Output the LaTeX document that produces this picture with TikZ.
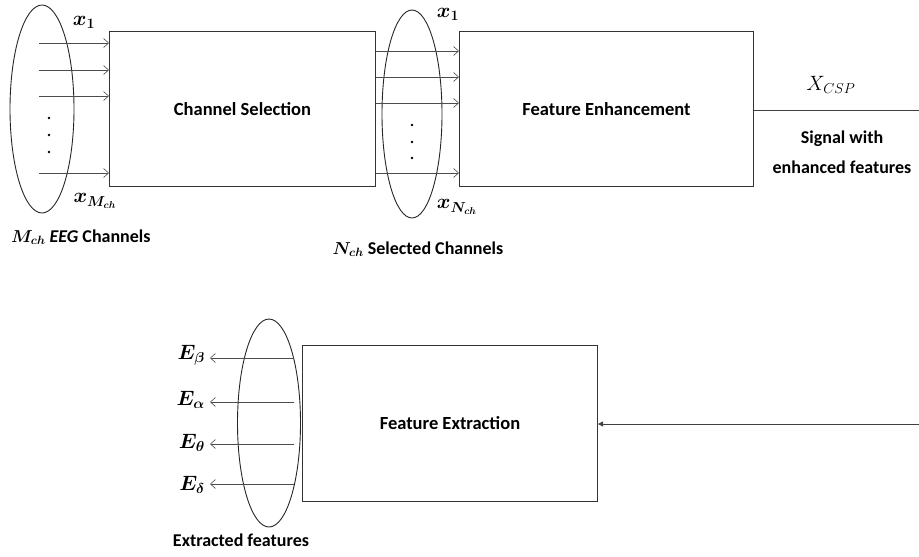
\documentclass[tikz,border=0pt]{standalone}
\usepackage{amsmath,bm}
\usepackage{fontspec}
\setmainfont{Carlito}
\usetikzlibrary{arrows.meta,shapes.geometric}
\begin{document}
\begin{tikzpicture}[x=1pt,y=-1pt,
  box/.style={draw=black!80, line width=1pt, anchor=north west, inner sep=0pt, font=\fontsize{18.5}{22}\selectfont\bfseries},
  ell/.style={draw=black!85, ellipse, line width=0.9pt, inner sep=0pt},
  arr/.style={draw=black!70, line width=0.6pt, -{Straight Barb[length=5pt,width=9pt]}},
  lbl/.style={font=\fontsize{18}{22}\selectfont\bfseries, inner sep=0pt},
  mlbl/.style={font=\fontsize{20}{24}\selectfont, inner sep=0pt},
  wire/.style={draw=black!75, line width=0.8pt}]
\useasboundingbox (0,0) rectangle (919,557);
% boxes
\node[box, minimum width=266pt, minimum height=155pt] (cs) at (109,31) {Channel Selection};
\node[box, minimum width=294pt, minimum height=155pt] (fe) at (459,31) {Feature Enhancement};
\node[box, minimum width=295pt, minimum height=156pt] (fx) at (302,345) {Feature Extraction};
% ellipses
\node[ell, minimum width=64pt, minimum height=208pt] (e1) at (42,109) {};
\node[ell, minimum width=60pt, minimum height=208pt] (e2) at (412,114) {};
\node[ell, minimum width=63pt, minimum height=208pt] (e3) at (269,423) {};
% input arrows
\coordinate (i1) at (39,43);
\coordinate (i2) at (39,70);
\coordinate (i3) at (39,96);
\coordinate (i4) at (39,173);
\foreach \c in {i1,i2,i3,i4} \draw[arr] (\c) -- (cs.west |- \c);
\foreach \yy in {118,135,152} \fill (49,\yy) circle (1.3pt);
% middle arrows
\foreach \yy in {51,77,103,173} \draw[arr] (cs.east |- 0,\yy) -- (fe.west |- 0,\yy);
\foreach \yy in {125,142,158} \fill (412,\yy) circle (1.3pt);
% output line
\coordinate (o1) at (919,110);
\draw[wire] (fe.east |- o1) -- (o1);
% feedback into extraction
\coordinate (o2) at (919,424);
\draw[wire, -{Triangle[length=5pt,width=5pt]}] (o2) -- (fx.east |- o2);
% extraction output arrows
\coordinate (f1) at (210,358);
\coordinate (f2) at (210,402);
\coordinate (f3) at (210,444);
\coordinate (f4) at (210,484);
\foreach \c in {f1,f2,f3,f4} \draw[arr] (294,0 |- \c) -- (\c);
% labels
\node[mlbl] (lx1) at (84,22) {$\bm{x_1}$};
\node[mlbl] (lxm) at (95,201) {$\bm{x_{M_{ch}}}$};
\node[lbl, anchor=west] (lm) at (11,237) {$\bm{M_{ch}}$ \textit{EEG} Channels};
\node[mlbl] (lx1b) at (448,14) {$\bm{x_1}$};
\node[mlbl] (lxn) at (457,207) {$\bm{x_{N_{ch}}}$};
\node[lbl] (ln) at (418,249) {$\bm{N_{ch}}$ Selected Channels};
\node[mlbl, font=\fontsize{22}{26}\selectfont] (lcsp) at (831,85) {$X_{CSP}$};
\node[lbl, align=center, font=\fontsize{18}{30}\selectfont\bfseries] (lsig) at (842,152) {Signal with\\enhanced features};
\node[mlbl, anchor=east] (eb) at (205,355) {$\bm{E_\beta}$};
\node[mlbl, anchor=east] (ea) at (205,400) {$\bm{E_\alpha}$};
\node[mlbl, anchor=east] (et) at (205,443) {$\bm{E_\theta}$};
\node[mlbl, anchor=east] (ed) at (205,485) {$\bm{E_\delta}$};
\node[lbl] (lex) at (241,540) {Extracted features};
\end{tikzpicture}
\end{document}
